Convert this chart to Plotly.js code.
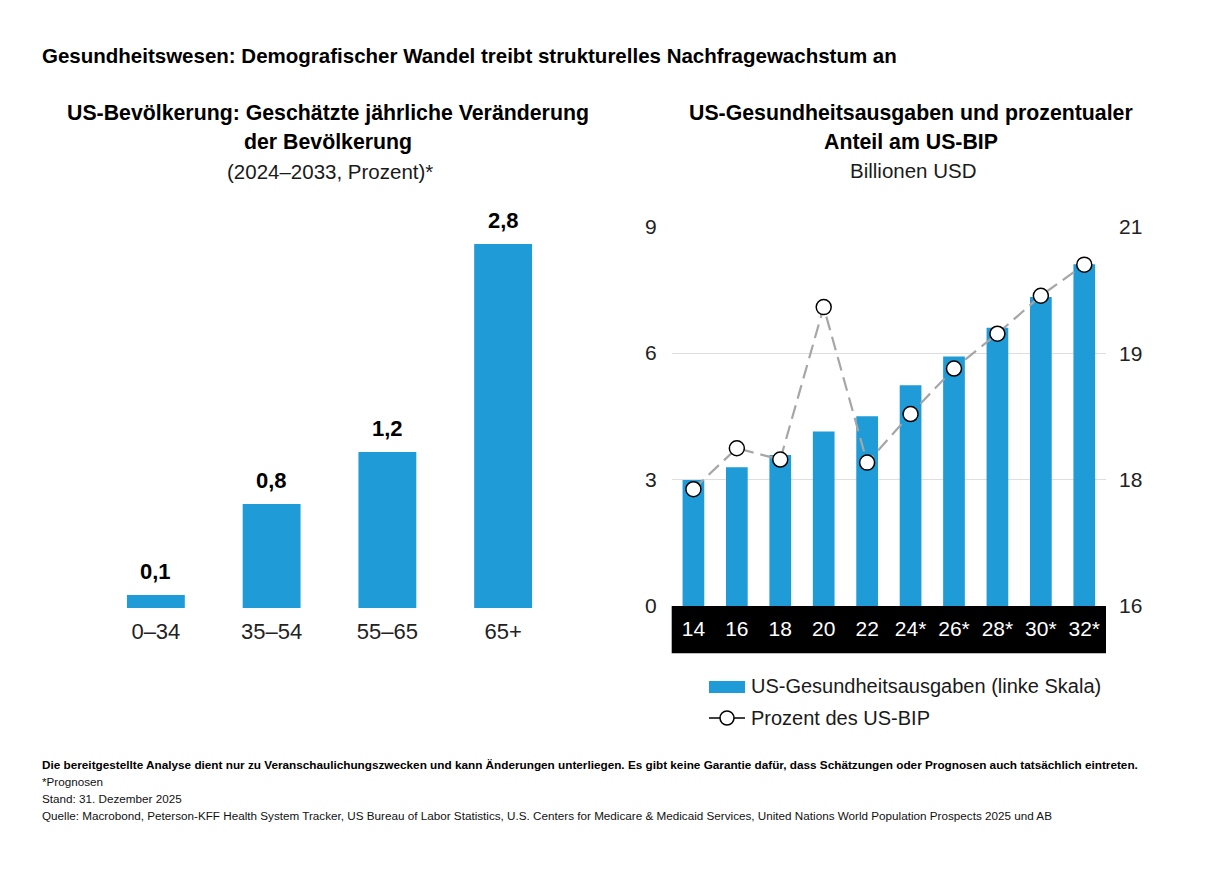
<!DOCTYPE html>
<html>
<head>
<meta charset="utf-8">
<script src="https://cdn.plot.ly/plotly-3.0.1.min.js"></script>
<style>
  html, body { margin: 0; padding: 0; background: #fff; }
  #chart { width: 1214px; height: 884px; }
</style>
</head>
<body>
<div id="chart"></div>
<script>
// Left panel: projected annual population change by age group (percent)
const ageGroups = ['0–34', '35–54', '55–65', '65+'];
const popChange = [0.1, 0.8, 1.2, 2.8];

// Right panel: US health spending (trillion USD) and share of GDP (percent)
const years = ['14', '16', '18', '20', '22', '24*', '26*', '28*', '30*', '32*'];
const healthSpending = [2.99, 3.29, 3.58, 4.14, 4.50, 5.24, 5.92, 6.60, 7.33, 8.11];
const gdpShare = [17.54, 18.08, 17.93, 19.94, 17.89, 18.53, 19.13, 19.59, 20.09, 20.50];

// Tick labels
const leftTickVals = [0, 3, 6, 9];
const rightTickVals = [16, 17.667, 19.333, 21];
const rightTickText = ['16', '18', '19', '21'];

const W = 1214, H = 884;
const px = x => x / W;
const py = y => 1 - y / H;

const BLUE = '#1f9bd7';
const FONT = 'Liberation Sans, Arial, sans-serif';
const TXT = '#1a1a1a';

const fmtDe = v => v.toFixed(1).replace('.', ',');

const traces = [
  {
    type: 'bar', x: ageGroups, y: popChange,
    xaxis: 'x', yaxis: 'y',
    marker: { color: BLUE }, width: 0.5,
    hoverinfo: 'skip', showlegend: false
  },
  {
    type: 'bar', x: years, y: healthSpending,
    xaxis: 'x2', yaxis: 'y2',
    marker: { color: BLUE }, width: 0.5,
    name: 'US-Gesundheitsausgaben (linke Skala)',
    hoverinfo: 'skip', showlegend: false
  },
  {
    type: 'scatter', mode: 'lines+markers', x: years, y: gdpShare,
    xaxis: 'x2', yaxis: 'y3',
    line: { color: '#a6a6a6', width: 2.2, dash: '14px,7px' },
    marker: { size: 15, color: '#ffffff', line: { color: '#000000', width: 1.5 } },
    name: 'Prozent des US-BIP',
    hoverinfo: 'skip', showlegend: false
  }
];

// Value labels above the left-panel bars
const valueLabels = ageGroups.map((g, i) => ({
  xref: 'x', yref: 'y', x: g, y: popChange[i],
  text: fmtDe(popChange[i]), showarrow: false,
  yanchor: 'bottom', yshift: 9,
  font: { family: FONT, size: 22, color: '#000', weight: 'bold' }
}));

const textAnn = (text, x, y, size, opts = {}) => Object.assign({
  xref: 'paper', yref: 'paper', x: px(x), y: py(y), text,
  showarrow: false, xanchor: 'center', yanchor: 'middle',
  font: { family: FONT, size, color: '#000' }
}, opts);

const left = (size, color, weight) => ({
  xanchor: 'left', font: { family: FONT, size, color, weight: weight || 'normal' }
});

const annotations = [
  textAnn('Gesundheitswesen: Demografischer Wandel treibt strukturelles Nachfragewachstum an', 40, 55, 20.5,
    left(20.5, '#000', 'bold')),
  textAnn('<b>US-Bevölkerung: Geschätzte jährliche Veränderung</b>', 328, 113, 21.3),
  textAnn('<b>der Bevölkerung</b>', 328, 142, 21.3),
  textAnn('(2024–2033, Prozent)*', 330, 172, 20.5, { font: { family: FONT, size: 20.5, color: TXT } }),
  textAnn('<b>US-Gesundheitsausgaben und prozentualer</b>', 911, 113, 21.3),
  textAnn('<b>Anteil am US-BIP</b>', 911, 142, 21.3),
  textAnn('Billionen USD', 913, 171, 20.5, { font: { family: FONT, size: 20.5, color: TXT } }),
  // legend
  textAnn('US-Gesundheitsausgaben (linke Skala)', 749, 686, 20, left(20, TXT)),
  textAnn('Prozent des US-BIP', 749, 718, 20, left(20, TXT)),
  // footer
  textAnn('Die bereitgestellte Analyse dient nur zu Veranschaulichungszwecken und kann Änderungen unterliegen. Es gibt keine Garantie dafür, dass Schätzungen oder Prognosen auch tatsächlich eintreten.',
    40, 764, 11.75, left(11.75, '#000', 'bold')),
  textAnn('*Prognosen', 40, 781, 11.7, left(11.7, '#111')),
  textAnn('Stand: 31. Dezember 2025', 40, 798, 11.7, left(11.7, '#111')),
  textAnn('Quelle: Macrobond, Peterson-KFF Health System Tracker, US Bureau of Labor Statistics, U.S. Centers for Medicare &amp; Medicaid Services, United Nations World Population Prospects 2025 und AB',
    40, 815, 11.7, left(11.7, '#111'))
].concat(valueLabels);

const shapes = [
  // black band behind the year labels
  { type: 'rect', xref: 'paper', yref: 'paper', layer: 'below',
    x0: px(671.7), x1: px(1106), y0: py(653.3), y1: py(606),
    fillcolor: '#000', line: { width: 0 } },
  // legend swatches
  { type: 'rect', xref: 'paper', yref: 'paper',
    x0: px(709), x1: px(745), y0: py(693), y1: py(681),
    fillcolor: BLUE, line: { width: 0 } },
  { type: 'line', xref: 'paper', yref: 'paper',
    x0: px(709), x1: px(745), y0: py(718), y1: py(718),
    line: { color: '#000', width: 1.5 } },
  { type: 'circle', xref: 'paper', yref: 'paper',
    x0: px(720), x1: px(734), y0: py(725), y1: py(711),
    fillcolor: '#fff', line: { color: '#000', width: 1.5 } }
];

const layout = {
  width: W, height: H,
  margin: { l: 0, r: 0, t: 0, b: 0 },
  paper_bgcolor: '#fff', plot_bgcolor: 'rgba(0,0,0,0)',
  showlegend: false,
  font: { family: FONT, color: TXT },
  xaxis: {
    domain: [px(98), px(561)], type: 'category', range: [-0.5, ageGroups.length - 0.5],
    showgrid: false, zeroline: false, showline: false, ticks: '', ticklabelstandoff: 8,
    tickfont: { family: FONT, size: 22, color: '#222' },
    fixedrange: true
  },
  yaxis: {
    domain: [py(608), py(218)], range: [0, 3.0],
    showgrid: false, zeroline: false, showline: false, showticklabels: false,
    fixedrange: true
  },
  xaxis2: {
    domain: [px(671.7), px(1106)], type: 'category', anchor: 'y2',
    range: [-0.5, years.length - 0.5],
    showgrid: false, zeroline: false, showline: false, ticks: '', ticklabelstandoff: 8,
    tickfont: { family: FONT, size: 21, color: '#fff' },
    fixedrange: true
  },
  yaxis2: {
    domain: [py(606), py(226.7)], range: [0, 9], anchor: 'x2',
    tickvals: leftTickVals, showgrid: true, gridcolor: '#dedede', gridwidth: 1,
    zeroline: false, showline: false, ticks: '', ticklabelstandoff: 14,
    tickfont: { family: FONT, size: 21, color: '#222' },
    fixedrange: true
  },
  yaxis3: {
    overlaying: 'y2', side: 'right', anchor: 'x2', range: [16, 21],
    tickvals: rightTickVals, ticktext: rightTickText,
    showgrid: false, zeroline: false, showline: false, ticks: '', ticklabelstandoff: 12,
    tickfont: { family: FONT, size: 21, color: '#222' },
    fixedrange: true
  },
  annotations, shapes
};

Plotly.newPlot('chart', traces, layout, { staticPlot: true, displayModeBar: false });
</script>
</body>
</html>
